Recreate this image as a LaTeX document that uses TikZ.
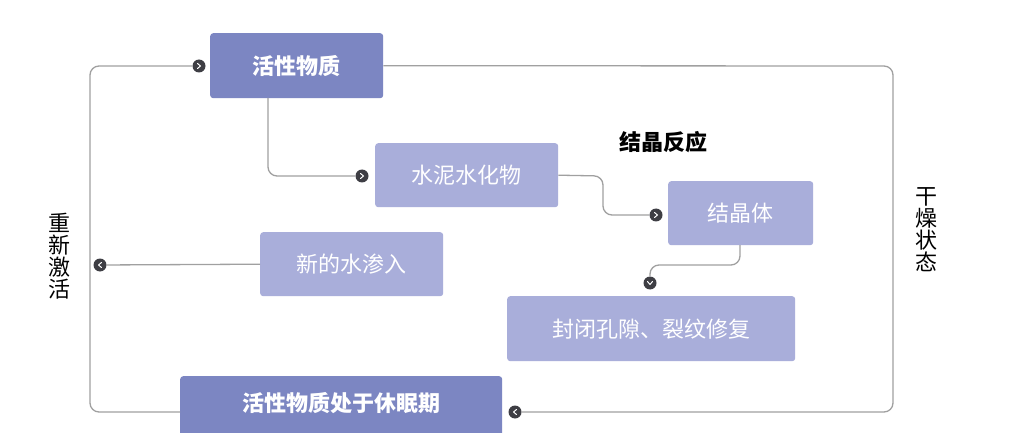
\documentclass[tikz,border=0pt]{standalone}
\usepackage{fontspec}
\setmainfont{Noto Sans CJK SC}
\usetikzlibrary{positioning}
\definecolor{boxdark}{HTML}{7C86C2}
\definecolor{boxlight}{HTML}{A9AEDA}
\definecolor{wire}{HTML}{A0A0A0}
\definecolor{knobc}{HTML}{3E3E44}
\begin{document}
\begin{tikzpicture}[x=1pt,y=-1pt]
	
	\tikzset{box/.style={draw=none,rounded corners=3pt,fill=boxlight,text=white,font=\fontsize{22}{24}\selectfont,anchor=north west,inner sep=0pt},
		strong/.style={box,fill=boxdark,font=\fontsize{22}{24}\selectfont\bfseries},
		wire/.style={draw=wire,line width=1.3pt,rounded corners=9pt},
		knob/.style={circle,fill=knobc,inner sep=0pt,minimum size=13pt,
			path picture={\draw[white,line width=1pt,line cap=round,line join=round] ([xshift=-1.5pt,yshift=2.5pt]path picture bounding box.center) -- ([xshift=1.5pt]path picture bounding box.center) -- ([xshift=-1.5pt,yshift=-2.5pt]path picture bounding box.center);}}}
	
	\useasboundingbox[fill=white] (0,0) rectangle (1029,433);
	
	% boxes
	\node[strong,minimum width=173pt,minimum height=65pt] (act) at (210,33) {活性物质};
	\node[box,minimum width=183pt,minimum height=64pt] (hyd) at (375,143) {水泥水化物};
	\node[box,minimum width=145pt,minimum height=64pt] (cry) at (668,181) {结晶体};
	\node[box,minimum width=183pt,minimum height=64pt] (wat) at (260,232) {新的水渗入};
	\node[box,minimum width=288pt,minimum height=65pt] (fix) at (507,296) {封闭孔隙、裂纹修复};
	\node[strong,minimum width=322pt,minimum height=72pt,text depth=20pt] (dor) at (180,376) {活性物质处于休眠期};
	
	% labels
	\node[font=\fontsize{22}{24}\selectfont\bfseries] (react) at (663,142) {结晶反应};
	\node[font=\fontsize{22}{24}\selectfont,align=center] (dry) at (926,230) {干\\[-2pt]燥\\[-2pt]状\\[-2pt]态};
	\node[font=\fontsize{22}{24}\selectfont,align=center] (wake) at (59,256) {重\\[-2pt]新\\[-2pt]激\\[-2pt]活};
	
	% markers
	\node[knob] (k1) at (199,66) {};
	\node[knob] (k2) at (362,176) {};
	\node[knob] (k3) at (656,215) {};
	\node[knob,rotate=-90] (k4) at (650,283) {};
	\node[knob,rotate=180] (k5) at (100,265) {};
	\node[knob,rotate=180] (k6) at (515,412) {};
	
	% connectors
	\draw[wire] (act.east) -- (893,66) -- (893,412) -- (k6);
	\draw[wire] (dor.west |- 0,412) -- (90,412) -- (90,66) -- (k1);
	\draw[wire] (268,98) -- (268,176) -- (k2);
	\draw[wire] (hyd.east) -- (603,176) -- (603,215) -- (k3);
	\draw[wire] (740,245) -- (740,265) -- (650,265) -- (k4);
	\draw[wire] (wat.west) -- (k5);
	
\end{tikzpicture}
\end{document}
